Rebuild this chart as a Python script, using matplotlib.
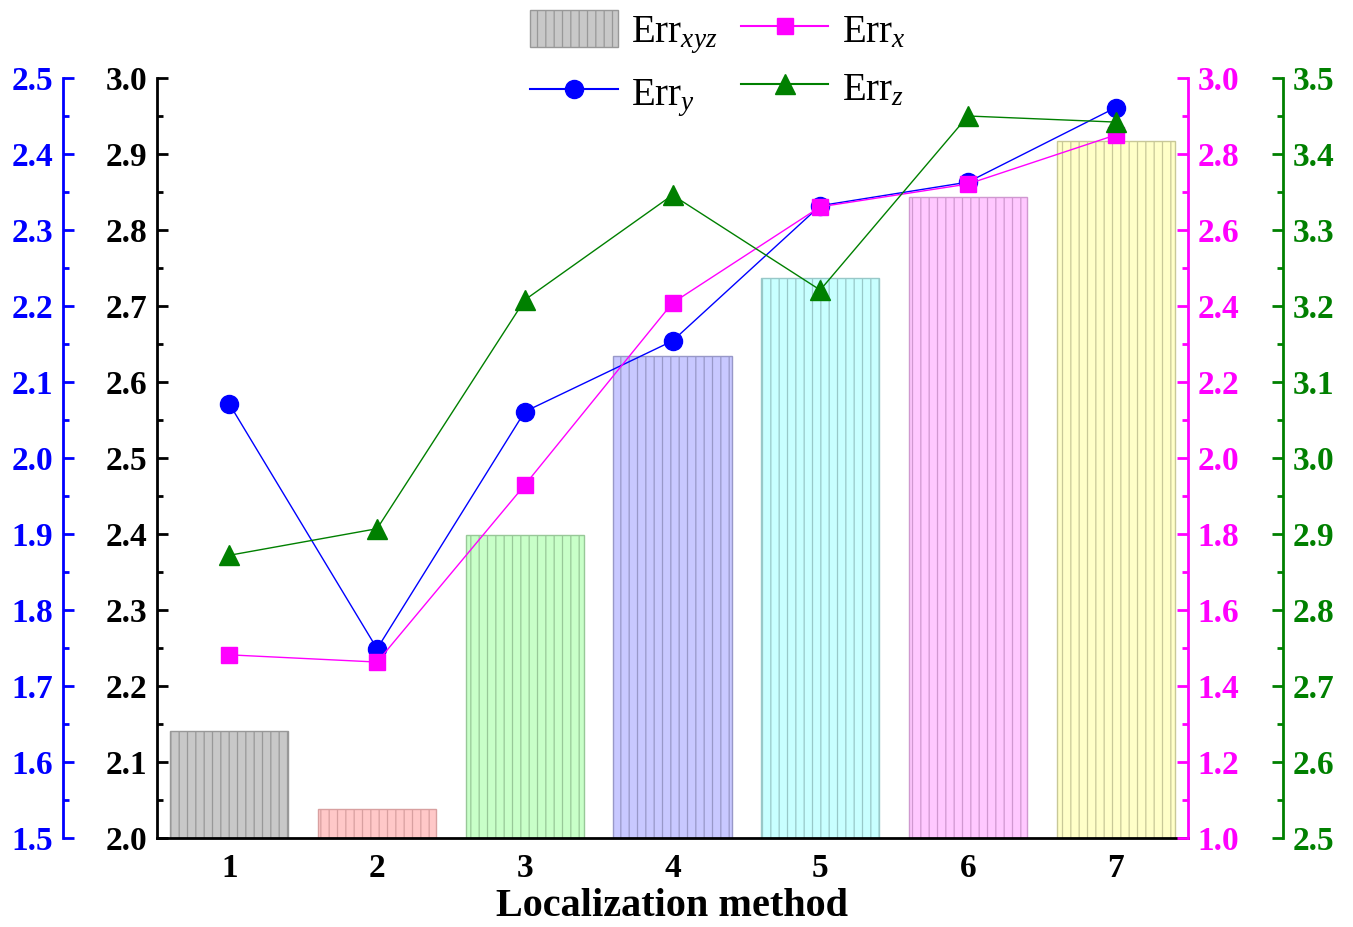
import matplotlib
matplotlib.use('Agg')
import matplotlib.pyplot as plt
from matplotlib.ticker import MultipleLocator, AutoMinorLocator
from matplotlib.lines import Line2D
from matplotlib.patches import Patch

plt.rcParams['font.family'] = ['Liberation Serif', 'DejaVu Serif']
plt.rcParams['font.weight'] = 'bold'
plt.rcParams['mathtext.fontset'] = 'custom'
plt.rcParams['mathtext.rm'] = 'Liberation Serif:normal'
plt.rcParams['mathtext.it'] = 'Liberation Serif:italic:normal'
plt.rcParams['hatch.linewidth'] = 0.9

# ---- data ----
methods = [1, 2, 3, 4, 5, 6, 7]
err_xyz = [2.141, 2.038, 2.399, 2.634, 2.737, 2.843, 2.917]
err_x = [1.482, 1.463, 1.929, 2.408, 2.661, 2.721, 2.850]
err_y = [2.071, 1.749, 2.061, 2.154, 2.332, 2.363, 2.461]
err_z = [2.872, 2.907, 3.208, 3.346, 3.221, 3.450, 3.442]

bar_faces = ['#C8C8C8', '#FFC8C8', '#C8FFC8', '#C8C8FF', '#C8FFFF', '#FFC8FF', '#FFFFC8']
bar_edges = ['#989898', '#D8A0A0', '#98C898', '#9898C8', '#98C8C8', '#D098D0', '#C8C898']

W, H = 1353, 927
fig = plt.figure(figsize=(W / 100, H / 100), dpi=100)
L, R, T, B = 157, 1188, 78, 838
ax = fig.add_axes([L / W, 1 - B / H, (R - L) / W, (B - T) / H])

ax.bar(methods, err_xyz, width=0.8, bottom=0, color=bar_faces, edgecolor=bar_edges,
       hatch='||', linewidth=1.0, zorder=2)
ax.set_ylim(2.0, 3.0)
ax.set_xlim(0.51, 7.49)
ax.set_xticks(methods)
ax.yaxis.set_major_locator(MultipleLocator(0.1))
ax.yaxis.set_minor_locator(AutoMinorLocator(2))
ax.spines['top'].set_visible(False)
ax.spines['right'].set_visible(False)
for s in ['left', 'bottom']:
    ax.spines[s].set_linewidth(2)
ax.tick_params(axis='y', which='major', direction='in', length=8, width=2,
               labelsize=24, pad=7)
ax.tick_params(axis='x', which='major', direction='in', length=8, width=2,
               labelsize=24, pad=11)
ax.tick_params(axis='y', which='minor', direction='in', length=4.5, width=2)
ax.set_xlabel('Localization method', fontsize=29, fontweight='bold', labelpad=3)

def make_twin(side, pos, color, lim, major):
    t = ax.twinx()
    for s in ['top', 'bottom', 'left', 'right']:
        t.spines[s].set_visible(False)
    t.spines[side].set_visible(True)
    t.spines[side].set_position(('axes', pos))
    t.spines[side].set_color(color)
    t.spines[side].set_linewidth(2)
    t.yaxis.set_ticks_position(side)
    t.set_ylim(*lim)
    t.yaxis.set_major_locator(MultipleLocator(major))
    t.yaxis.set_minor_locator(AutoMinorLocator(2))
    t.tick_params(axis='y', which='major', direction='in', length=8, width=2,
                  labelsize=24, pad=7, colors=color)
    t.tick_params(axis='y', which='minor', direction='in', length=4.5, width=2,
                  colors=color)
    return t

ax_y = make_twin('left', (63 - L) / (R - L), 'blue', (1.5, 2.5), 0.1)
ax_x = make_twin('right', 1.0, '#FF00FF', (1.0, 3.0), 0.2)
ax_z = make_twin('right', (1283 - L) / (R - L), 'green', (2.5, 3.5), 0.1)

for a in [ax, ax_y, ax_x, ax_z]:
    for lab in a.get_yticklabels() + a.get_xticklabels():
        lab.set_fontweight('bold')

ax_x.plot(methods, err_x, color='#FF00FF', marker='s', markersize=11, linewidth=1, zorder=3)
ax_y.plot(methods, err_y, color='blue', marker='o', markersize=13, linewidth=1, zorder=3)
ax_z.plot(methods, err_z, color='green', marker='^', markersize=15, linewidth=1, zorder=3)

handles = [
    Patch(facecolor='#C8C8C8', edgecolor='#989898', hatch='||', linewidth=1),
    Line2D([], [], color='blue', marker='o', markersize=13, linewidth=1.5),
    Line2D([], [], color='#FF00FF', marker='s', markersize=11, linewidth=1.5),
    Line2D([], [], color='green', marker='^', markersize=15, linewidth=1.5),
]
labels = [r'Err$_{xyz}$', r'Err$_{y}$', r'Err$_{x}$', r'Err$_{z}$']
fig.legend(handles, labels, loc='upper left', bbox_to_anchor=(530 / W, 1 - 10 / H),
           ncol=2, frameon=False, prop={'weight': 'normal', 'size': 28},
           handlelength=2.25, handleheight=1.1, handletextpad=0.35,
           columnspacing=0.6, labelspacing=0.45, borderpad=0, borderaxespad=0)

fig.savefig('out.png', dpi=100)
